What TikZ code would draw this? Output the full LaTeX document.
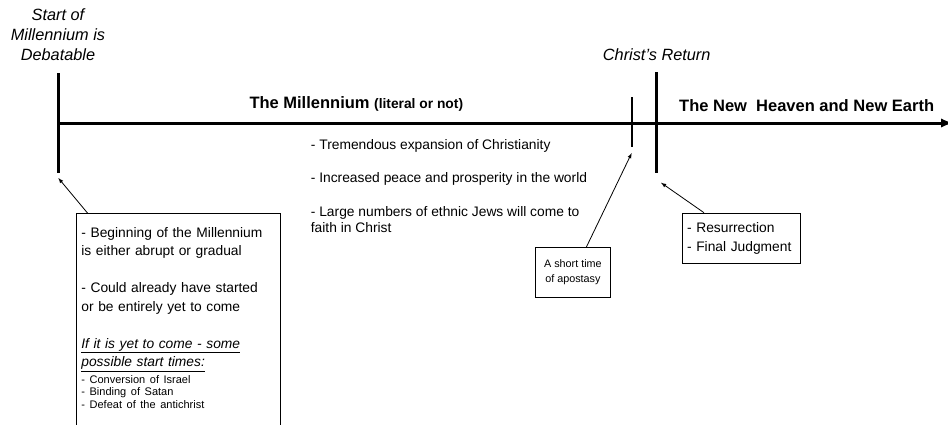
\documentclass[tikz,border=0pt]{standalone}
\usepackage{fontspec}
\setmainfont{Liberation Sans}
\usetikzlibrary{arrows,positioning}
\tikzset{font=\fontsize{13.8}{16.6}\selectfont}
\tikzset{every node/.append style={inner sep=0pt}}
\tikzset{infobox/.style={draw, line width=0.8pt, align=left, inner xsep=5pt}}
\tikzset{pointer/.style={-latex, line width=0.8pt}}
\tikzset{era/.style={font=\fontsize{16.5}{20}\selectfont\bfseries, anchor=base west}}
\tikzset{event/.style={font=\fontsize{16.3}{20}\selectfont\itshape, align=center}}

\begin{document}
\begin{tikzpicture}[x=1pt,y=-1pt]
\clip (0,0) rectangle (948,424);
% time line and its marks
\draw[line width=3pt,-latex] (58,123) -- (953,123);
\draw[line width=3pt] (58,73) -- (58,173);
\draw[line width=2pt] (631.7,97) -- (631.7,147);
\draw[line width=3pt] (656,72) -- (656,173);
\coordinate (startmark) at (58.3,178);
\coordinate (apostasymark) at (631.7,153);
\coordinate (returnmark) at (661,182.7);

\node[event] (startlabel) at (58,35) {Start of\\Millennium is\\Debatable};
\node[event] (returnlabel) at (656.7,55) {Christ’s Return};
\node[era] (millennium) at (249.3,108.3) {The Millennium {\fontsize{13.8}{16}\selectfont(literal or not)}};
\node[era] (newearth) at (679,111.7) {The New~~Heaven and New Earth};

\node[anchor=north west, align=left] (blessings) at (310.7,139.5) {- Tremendous expansion of Christianity\\[16.6pt]
  - Increased peace and prosperity in the world\\[16.6pt]
  - Large numbers of ethnic Jews will come to\\faith in Christ};

% box runs off the bottom edge
\node[infobox, draw=none, anchor=north west, text width=193.3pt, inner ysep=13.5pt,
  font=\fontsize{13.8}{18.5}\selectfont] (beginbox) at (76,213.3) {- Beginning of the Millennium\\
  is either abrupt or gradual\\[18.5pt]
  - Could already have started\\
  or be entirely yet to come\\[18.5pt]
  \underline{\textit{If it is yet to come - some}}\\
  \underline{\textit{possible start times:}}\\[-2pt]
  {\fontsize{11}{12.5}\selectfont\begin{tabular}[t]{@{}l@{}}
  - Conversion of Israel\\
  - Binding of Satan\\
  - Defeat of the antichrist
  \end{tabular}}};
\draw[line width=0.8pt] (beginbox.west |- 0,430) |- (beginbox.north east) -- (beginbox.east |- 0,430);
\node[infobox, anchor=north west, minimum width=75pt, minimum height=49.7pt, align=center,
  font=\fontsize{10.8}{15}\selectfont] (apostasybox) at (535,247) {A short time\\of apostasy};
\node[infobox, anchor=north west, minimum width=118.3pt, minimum height=50.6pt, text width=108.3pt,
  font=\fontsize{13.8}{19}\selectfont] (judgmentbox) at (681.7,212.7) {- Resurrection\\- Final Judgment};

\draw[pointer] ([xshift=11.7pt]beginbox.north west) -- (startmark);
\draw[pointer] ([xshift=13.5pt]apostasybox.north) -- (apostasymark);
\draw[pointer] ([xshift=22.3pt]judgmentbox.north west) -- (returnmark);
\end{tikzpicture}
\end{document}
